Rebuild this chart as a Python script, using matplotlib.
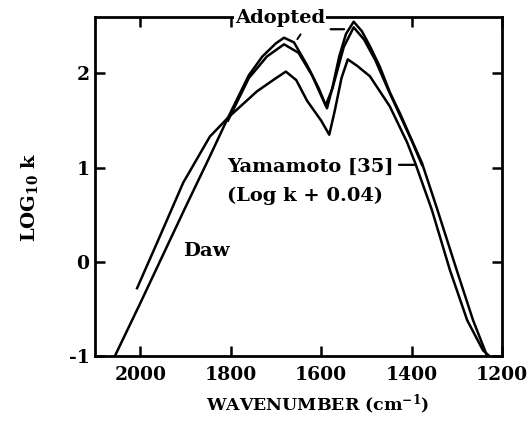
import matplotlib
matplotlib.use("Agg")
import matplotlib.pyplot as plt

# 数据
adopted_wn = [2056, 2000, 1950, 1900, 1850, 1806, 1760, 1730, 1700, 1682, 1660,
              1630, 1605, 1587, 1575, 1560, 1545, 1528, 1510, 1492, 1470, 1448,
              1425, 1403, 1377, 1344, 1300, 1264, 1233]
adopted_logk = [-1.00, -0.44, 0.07, 0.58, 1.08, 1.53, 1.98, 2.18, 2.32, 2.38, 2.33,
                2.08, 1.84, 1.63, 1.85, 2.18, 2.42, 2.55, 2.45, 2.29, 2.07, 1.80,
                1.57, 1.33, 1.05, 0.57, -0.09, -0.62, -1.00]

yamamoto_wn = [1806, 1760, 1720, 1682, 1650, 1620, 1590, 1575, 1550, 1528, 1505,
               1480, 1450, 1400, 1377]
yamamoto_logk = [1.50, 1.95, 2.18, 2.31, 2.22, 1.98, 1.66, 1.84, 2.28, 2.49, 2.36,
                 2.14, 1.81, 1.29, 1.03]

daw_wn = [2007, 1963, 1905, 1846, 1806, 1742, 1700, 1678, 1655, 1631, 1600, 1582,
          1570, 1555, 1541, 1520, 1492, 1448, 1410, 1392, 1355, 1315, 1277, 1242, 1228]
daw_logk = [-0.28, 0.20, 0.84, 1.33, 1.53, 1.81, 1.95, 2.02, 1.93, 1.71, 1.50, 1.35,
            1.60, 1.95, 2.15, 2.08, 1.97, 1.65, 1.27, 1.05, 0.55, -0.09, -0.62, -0.94, -1.00]

x_ticks = [2000, 1800, 1600, 1400, 1200]
y_ticks = [-1, 0, 1, 2]

plt.rcParams['font.family'] = ['DejaVu Serif']
plt.rcParams['font.weight'] = 'bold'
plt.rcParams['mathtext.fontset'] = 'dejavuserif'
plt.rcParams['mathtext.default'] = 'bf'
plt.rcParams['axes.unicode_minus'] = False

fig = plt.figure(figsize=(5.32, 4.47), dpi=100)
ax = fig.add_axes([0.1786, 0.2036, 0.765, 0.7584])

for wn, lk in [(adopted_wn, adopted_logk), (yamamoto_wn, yamamoto_logk), (daw_wn, daw_logk)]:
    ax.plot(wn, lk, color='black', lw=1.8, solid_joinstyle='round')

ax.set_xlim(2100, 1200)
ax.set_ylim(-1, 2.6)
ax.set_xticks(x_ticks)
ax.set_yticks(y_ticks)
ax.tick_params(direction='in', length=7, width=1.8, top=True, right=True,
               labelsize=13.5)
ax.tick_params(axis='x', pad=7)
ax.tick_params(axis='y', pad=4)
for s in ax.spines.values():
    s.set_linewidth(2.0)

# 标注
fs = 14
ax.text(1691, 2.585, 'Adopted', ha='center', va='center', fontsize=fs,
        bbox=dict(facecolor='white', edgecolor='none', pad=1.0), clip_on=False, zorder=5)
ax.annotate('', xy=(1543, 2.47), xytext=(1585, 2.47),
            arrowprops=dict(arrowstyle='-', lw=1.6, color='black'))
ax.annotate('', xy=(1656, 2.34), xytext=(1642, 2.44),
            arrowprops=dict(arrowstyle='-', lw=1.4, color='black'))

ax.text(1808, 1.01, 'Yamamoto [35]', ha='left', va='center', fontsize=fs)
ax.text(1808, 0.70, '(Log k + 0.04)', ha='left', va='center', fontsize=fs)
ax.annotate('', xy=(1388, 1.03), xytext=(1434, 1.03),
            arrowprops=dict(arrowstyle='-', lw=1.6, color='black'))
ax.text(1905, 0.11, 'Daw', ha='left', va='center', fontsize=fs)

fig.text(0.598, 0.0805, 'WAVENUMBER (cm$^{-1}$)', ha='center', va='baseline', fontsize=12.5)
fig.text(0.056, 0.559, 'LOG$_{10}$ k', ha='center', va='center', rotation=90, fontsize=14)

fig.savefig('out.png', dpi=100)
